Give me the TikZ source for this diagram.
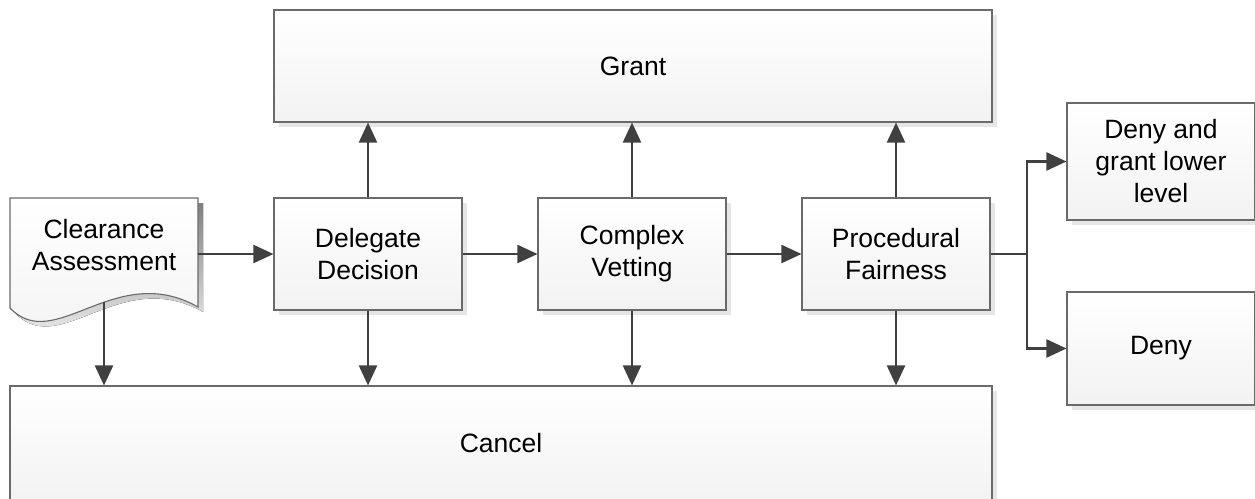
\documentclass[tikz,border=0pt]{standalone}
\usepackage{fontspec}
\setmainfont{Liberation Sans}
\usetikzlibrary{arrows.meta,shadows}
\definecolor{edge}{HTML}{6A6A6A}
\definecolor{wire}{HTML}{404040}
\definecolor{shade}{HTML}{E6E6E6}
\tikzset{
  label text/.style={align=center, font=\fontsize{26.5}{32}\selectfont},
  box/.style={draw=edge, line width=1.1pt, top color=white, bottom color=black!5,
    general shadow={fill=shade, shadow xshift=5pt, shadow yshift=-5pt},
    minimum width=188pt, minimum height=112pt, inner sep=0pt, label text},
  flow/.style={draw=wire, line width=2.4pt, -{Triangle[length=20pt,width=18pt]}},
  plain/.style={draw=wire, line width=2.4pt}
}
\begin{document}
\begin{tikzpicture}[x=1pt,y=-1pt]
\useasboundingbox (0,0) rectangle (1255,498);
\clip (0,0) rectangle (1255,498);

% document-shaped start box with a wavy bottom
\fill[shade, shift={(5,5)}] (10,198) -- (198,198) -- (198,307)
  .. controls (115,260) and (55,355) .. (10,308) -- cycle;
\shade[draw=edge, line width=1.1pt, top color=white, bottom color=black!5]
  (10,198) -- (198,198) -- (198,307)
  .. controls (115,260) and (55,355) .. (10,308) -- cycle;
\node[label text] (ca) at (104,245) {Clearance\\Assessment};
\coordinate (caE) at (198,254);
\coordinate (caS) at (104,302);

% process steps
\node[box] (dd) at (368,254) {Delegate\\Decision};
\node[box] (cv) at (632,254) {Complex\\Vetting};
\node[box] (pf) at (896,254) {Procedural\\Fairness};

% outcomes
\node[box, minimum width=718pt] (grant) at (633,66) {Grant};
\node[box, minimum width=982pt, minimum height=116pt] (cancel) at (501,444) {\raisebox{2pt}{Cancel}};
\node[box, minimum height=117pt] (dgl) at (1161,161.5) {Deny and\\grant lower\\level};
\node[box, minimum height=113pt] (deny) at (1161,348.5) {Deny};

% main flow
\draw[flow] (caE) -- (dd.west);
\draw[flow] (dd) -- (cv);
\draw[flow] (cv) -- (pf);

% up to Grant
\draw[flow] (dd.north) -- (dd.north |- grant.south);
\draw[flow] (cv.north) -- (cv.north |- grant.south);
\draw[flow] (pf.north) -- (pf.north |- grant.south);

% down to Cancel
\draw[flow] (caS) -- (caS |- cancel.north);
\draw[flow] (dd.south) -- (dd.south |- cancel.north);
\draw[flow] (cv.south) -- (cv.south |- cancel.north);
\draw[flow] (pf.south) -- (pf.south |- cancel.north);

% split after procedural fairness
\coordinate (split) at (1027,254);
\draw[plain] (pf.east) -- (split);
\draw[flow] (split) |- (dgl.west);
\draw[flow] (split) |- (deny.west);
\end{tikzpicture}
\end{document}
